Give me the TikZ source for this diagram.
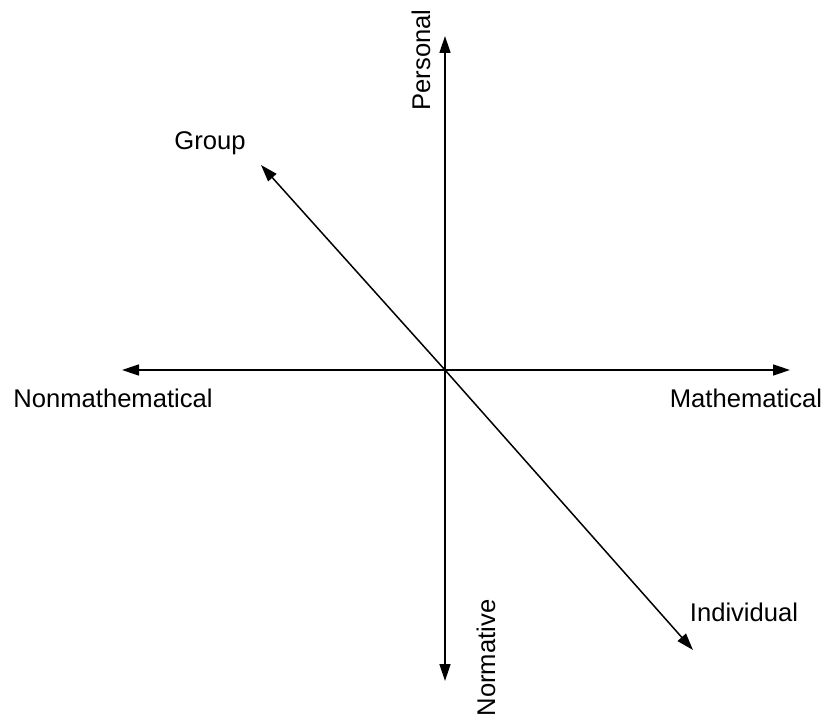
\documentclass[tikz,border=0pt]{standalone}
\usepackage{fontspec}
\setmainfont{Liberation Sans}
\usetikzlibrary{arrows.meta}
\tikzset{
  axis/.style={line width=1.5pt, -{Triangle[length=17pt,width=11pt]}},
  lbl/.style={inner sep=0pt, font=\fontsize{25.6}{30}\selectfont}
}
\begin{document}
\begin{tikzpicture}[x=1pt,y=-1pt]
\useasboundingbox (0,0) rectangle (823,719);
\coordinate (O) at (445,370);
\coordinate (top) at (445,36);
\coordinate (bot) at (445,681);
\coordinate (left) at (122,370);
\coordinate (right) at (790,370);
\coordinate (ul) at (261,165);
\coordinate (lr) at (693,650);
\draw[axis] (O) -- (top);
\draw[axis] (O) -- (bot);
\draw[axis] (O) -- (left);
\draw[axis] (O) -- (right);
\draw[axis] (O) -- (ul);
\draw[axis] (O) -- (lr);
\node[lbl, rotate=90] (personal) at (421,60) {Personal};
\node[lbl, rotate=90] (normative) at (486,658) {Normative};
\node[lbl] (group) at (210,143) {Group};
\node[lbl] (nonmath) at (113,398) {Nonmathematical};
\node[lbl] (math) at (746,398) {Mathematical};
\node[lbl] (indiv) at (744,612) {Individual};
\end{tikzpicture}
\end{document}
